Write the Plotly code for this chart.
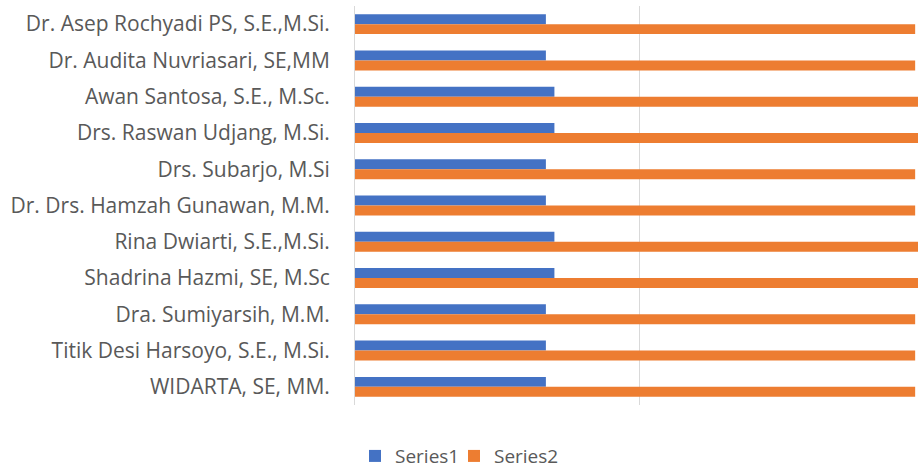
import plotly.graph_objects as go

categories = [
    "Dr. Asep Rochyadi PS, S.E.,M.Si.",
    "Dr. Audita Nuvriasari, SE,MM",
    "Awan Santosa, S.E., M.Sc.",
    "Drs. Raswan Udjang, M.Si.",
    "Drs. Subarjo, M.Si",
    "Dr. Drs. Hamzah Gunawan, M.M.",
    "Rina Dwiarti, S.E.,M.Si.",
    "Shadrina Hazmi, SE, M.Sc",
    "Dra. Sumiyarsih, M.M.",
    "Titik Desi Harsoyo, S.E., M.Si.",
    "WIDARTA, SE, MM.",
]
series1 = [3.36, 3.36, 3.51, 3.51, 3.36, 3.36, 3.51, 3.51, 3.36, 3.36, 3.36]
series2 = [9.86, 9.86, 10.3, 10.3, 9.86, 9.86, 10.3, 10.3, 9.86, 9.86, 9.86]

FONT = "Open Sans"
GRAY = "#595959"

fig = go.Figure()
fig.add_trace(go.Bar(y=categories, x=series1, name="Series1", orientation="h",
                     legend="legend",
                     marker=dict(color="#4472C4", line=dict(width=0))))
fig.add_trace(go.Bar(y=categories, x=series2, name="Series2", orientation="h",
                     legend="legend2",
                     marker=dict(color="#ED7D31", line=dict(width=0))))

leg_common = dict(orientation="h", xref="paper", yref="paper",
                  y=-0.128, xanchor="left", yanchor="middle",
                  font=dict(family=FONT, size=19, color=GRAY),
                  itemwidth=30, bgcolor="rgba(0,0,0,0)")

fig.update_layout(
    width=918, height=472,
    margin=dict(l=355, r=0, t=6, b=67, autoexpand=False),
    paper_bgcolor="white", plot_bgcolor="white",
    barmode="group", bargap=0.45, bargroupgap=0,
    font=dict(family=FONT, size=20, color=GRAY),
    showlegend=True,
    legend=dict(x=0.0, **leg_common),
    legend2=dict(x=0.1758, **leg_common),
    xaxis=dict(range=[0, 9.91], tick0=0, dtick=5, showticklabels=False,
               showgrid=True, gridcolor="#d9d9d9", gridwidth=1,
               zeroline=False, showline=False, fixedrange=True, automargin=False),
    yaxis=dict(autorange="reversed", showline=True, linecolor="#d9d9d9",
               linewidth=1, ticks="", ticklabelstandoff=20, automargin=False,
               tickfont=dict(family=FONT, size=21, color=GRAY), showgrid=False),
)

fig.write_html(
    "out.html",
    config={"displayModeBar": False},
    post_script="document.body.style.margin='0';document.body.style.overflow='hidden';",
)
